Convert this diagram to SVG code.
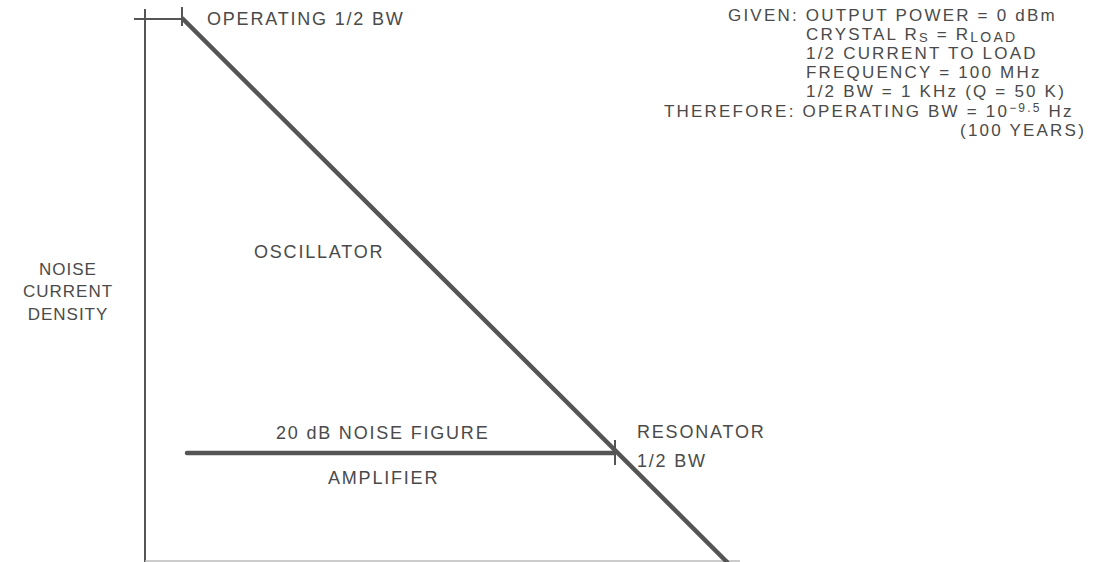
<svg xmlns="http://www.w3.org/2000/svg" width="1110" height="562" viewBox="0 0 1110 562">
<style>
.t{font-family:"Liberation Sans",Arial,sans-serif;font-size:18px;letter-spacing:1.8px;fill:#4a4a4a}
.l{font-family:"Liberation Sans",Arial,sans-serif;font-size:17px;letter-spacing:1px;fill:#4a4a4a}
.r{font-family:"Liberation Sans",Arial,sans-serif;font-size:17px;letter-spacing:2.2px;fill:#4a4a4a}
.ax{stroke:#555;stroke-width:2;fill:none}
.thick{stroke:#555;stroke-width:4.5;fill:none;stroke-linecap:round}
</style>
<rect width="1110" height="562" fill="#fff"/>
<g id="axes">
<line class="ax" x1="145" y1="9" x2="145" y2="562"/>
<line class="ax" x1="134" y1="19" x2="182" y2="19"/>
<line class="ax" x1="182" y1="7" x2="182" y2="26"/>
<line x1="145" y1="561" x2="740" y2="561" stroke="#bbb" stroke-width="1.5"/>
</g>
<g id="connectors">
<line id="oscillator-line" class="thick" x1="183" y1="19" x2="727" y2="562"/>
<line id="amplifier-line" class="thick" x1="187" y1="453" x2="614" y2="453"/>
<line class="ax" x1="615" y1="440" x2="615" y2="465"/>
</g>
<g id="ylabel">
<text class="l" text-anchor="middle" x="68" y="275">NOISE</text>
<text class="l" text-anchor="middle" x="68" y="297">CURRENT</text>
<text class="l" text-anchor="middle" x="68" y="320">DENSITY</text>
</g>
<g id="operating">
<text class="t" x="207" y="25">OPERATING 1/2 BW</text>
</g>
<g id="oscillator">
<text class="t" x="254" y="258">OSCILLATOR</text>
</g>
<g id="amplifier">
<text class="t" x="276" y="439">20 dB NOISE FIGURE</text>
<text class="t" x="328" y="484">AMPLIFIER</text>
</g>
<g id="resonator">
<text class="t" x="637" y="438">RESONATOR</text>
<text class="t" x="637" y="467">1/2 BW</text>
</g>
<g id="notes">
<text class="r" x="728" y="21">GIVEN: OUTPUT POWER = 0 dBm</text>
<text class="r" x="806" y="40">CRYSTAL R<tspan font-size="13" dy="2">S</tspan><tspan dy="-2"> = R</tspan><tspan font-size="14" dy="2">LOAD</tspan></text>
<text class="r" x="806" y="59">1/2 CURRENT TO LOAD</text>
<text class="r" x="806" y="78">FREQUENCY = 100 MHz</text>
<text class="r" x="806" y="97">1/2 BW = 1 KHz (Q = 50 K)</text>
<text class="r" x="664" y="117">THEREFORE: OPERATING BW = 10<tspan font-size="12" dy="-5">−9.5</tspan><tspan dy="5"> Hz</tspan></text>
<text class="r" x="1086" y="136" text-anchor="end">(100 YEARS)</text>
</g>
</svg>
